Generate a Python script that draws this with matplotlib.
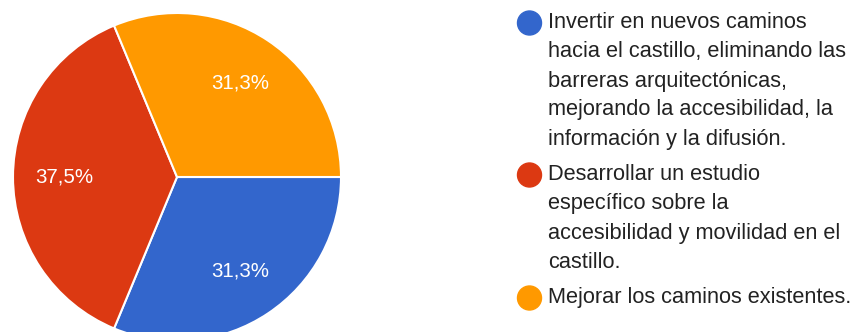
import matplotlib.pyplot as plt
from matplotlib.patches import Circle

plt.rcParams['font.family'] = ['Liberation Sans', 'DejaVu Sans']

# respuestas (porcentaje de votos)
opciones = [
    "Invertir en nuevos caminos\nhacia el castillo, eliminando las\nbarreras arquitectónicas,\nmejorando la accesibilidad, la\ninformación y la difusión.",
    "Desarrollar un estudio\nespecífico sobre la\naccesibilidad y movilidad en el\ncastillo.",
    "Mejorar los caminos existentes.",
]
porcentajes = [31.3, 37.5, 31.3]
colores = ["#3366CC", "#DC3912", "#FF9900"]

W, H = 858, 332
fig = plt.figure(figsize=(W / 100, H / 100), dpi=100)
fig.patch.set_facecolor("white")

# tarta: centro (177,177) px, radio 164 px
cx, cy, r = 177, 177, 164
ax = fig.add_axes([(cx - r) / W, (H - cy - r) / H, 2 * r / W, 2 * r / H])
wedges, textos = ax.pie(
    porcentajes,
    colors=colores,
    startangle=0,
    counterclock=False,
    labels=[f"{p:.1f}%".replace(".", ",") for p in porcentajes],
    labeldistance=0.69,
    wedgeprops=dict(edgecolor="white", linewidth=1.5),
    textprops=dict(color="white", fontsize=14.8),
)
for t in textos:
    t.set_horizontalalignment("center")
    t.set_verticalalignment("center")
ax.set_xlim(-1, 1)
ax.set_ylim(-1, 1)

# leyenda a mano, en coordenadas de pixel
lax = fig.add_axes([0, 0, 1, 1])
lax.set_xlim(0, W)
lax.set_ylim(H, 0)
lax.axis("off")

y_ini = [23, 175, 298]
salto = 29
for texto, color, y0 in zip(opciones, colores, y_ini):
    lax.add_patch(Circle((529.5, y0), 12, color=color))
    for i, linea in enumerate(texto.split("\n")):
        lax.text(548, y0 + i * salto, linea, fontsize=15.7, color="#222222",
                 va="center", ha="left")

fig.savefig("out.png", dpi=100, facecolor="white")
